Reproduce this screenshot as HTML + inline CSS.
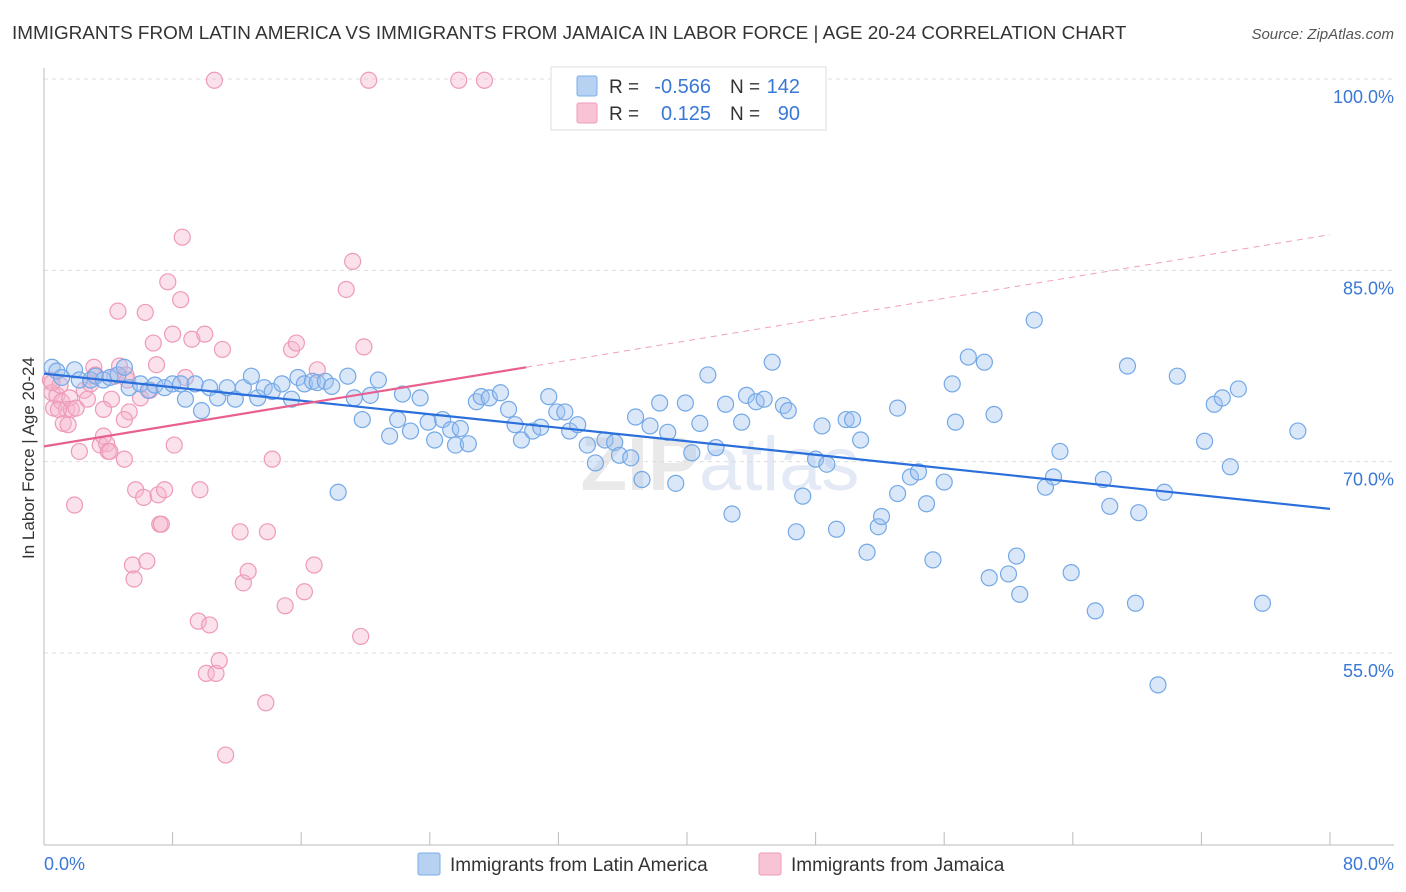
<!DOCTYPE html>
<html><head><meta charset="utf-8"><style>
body{margin:0;background:#fff;font-family:"Liberation Sans",sans-serif;}
#wrap{position:relative;width:1406px;height:892px;overflow:hidden;}
</style></head><body>
<div id="wrap">
<svg id="svg" width="1406" height="892" xmlns="http://www.w3.org/2000/svg">
<text x="12" y="39" font-size="18.9" fill="#333">IMMIGRANTS FROM LATIN AMERICA VS IMMIGRANTS FROM JAMAICA IN LABOR FORCE | AGE 20-24 CORRELATION CHART</text>
<text x="1394" y="39" font-size="15" fill="#555" font-style="italic" text-anchor="end">Source: ZipAtlas.com</text>
<text x="720" y="490" font-size="76" fill="#e9e9e9" text-anchor="middle" font-weight="bold">ZIP<tspan fill="#e3eaf5" font-weight="normal">atlas</tspan></text>
<g id="grid"></g><g id="axes"></g><g id="pts"></g><g id="trend"></g>
<text x="34" y="458" font-size="17" fill="#333" text-anchor="middle" transform="rotate(-90 34 458)">In Labor Force | Age 20-24</text>
<g>
<rect x="551" y="67" width="275" height="63" fill="#fff" stroke="#ddd"/>
<rect x="577" y="76" width="20" height="20" fill="#b7d1f3" stroke="#7aaee8" rx="2"/>
<rect x="577" y="103" width="20" height="20" fill="#f8c3d4" stroke="#ef9dbb" rx="2"/>
<text x="609" y="93" font-size="19" fill="#333">R =</text>
<text x="711" y="93" font-size="20" fill="#3a78d6" text-anchor="end">-0.566</text>
<text x="730" y="93" font-size="19" fill="#333">N =</text>
<text x="800" y="93" font-size="20" fill="#3a78d6" text-anchor="end">142</text>
<text x="609" y="120" font-size="19" fill="#333">R =</text>
<text x="711" y="120" font-size="20" fill="#3a78d6" text-anchor="end">0.125</text>
<text x="730" y="120" font-size="19" fill="#333">N =</text>
<text x="800" y="120" font-size="20" fill="#3a78d6" text-anchor="end">90</text>
</g>
<g>
<rect x="418" y="853" width="22" height="22" fill="#b7d1f3" stroke="#7aaee8" rx="2"/>
<text x="450" y="871" font-size="19" fill="#333">Immigrants from Latin America</text>
<rect x="759" y="853" width="22" height="22" fill="#f8c3d4" stroke="#ef9dbb" rx="2"/>
<text x="791" y="871" font-size="19" fill="#333">Immigrants from Jamaica</text>
</g>
<text x="44" y="870" font-size="18" fill="#3a78d6">0.0%</text>
<text x="1394" y="870" font-size="18" fill="#3a78d6" text-anchor="end">80.0%</text>
</svg>
</div>
<script>
const blueX=[0.5,0.8,1.1,1.9,2.2,2.9,3.2,3.7,4.1,4.6,5.0,5.3,6.0,6.5,6.9,7.5,8.0,8.5,8.8,9.4,9.8,10.3,10.8,11.4,11.9,12.4,12.9,13.3,13.7,14.2,14.8,15.4,15.8,16.2,16.7,17.0,17.5,17.9,18.3,18.9,19.3,19.8,20.3,20.8,21.5,22.0,22.3,22.8,23.4,23.9,24.3,24.8,25.3,25.6,25.9,26.4,26.9,27.2,27.7,28.4,28.9,29.3,29.7,30.4,30.9,31.4,31.9,32.4,32.7,33.2,33.8,34.3,34.9,35.5,35.8,36.5,36.8,37.2,37.7,38.3,38.8,39.3,39.9,40.3,40.8,41.3,41.8,42.4,42.8,43.4,43.7,44.3,44.8,45.3,46.0,46.3,46.8,47.2,48.0,48.4,48.7,49.3,49.9,50.3,50.8,51.2,51.9,52.1,53.1,53.1,53.9,54.4,54.9,55.3,56.0,56.5,56.7,57.5,58.5,58.8,59.1,60.0,60.5,60.7,61.6,62.3,62.8,63.2,63.9,65.4,65.9,66.3,67.4,67.9,68.1,69.3,69.7,70.5,72.2,72.8,73.3,73.8,74.3,75.8,78.0];
const blueY=[77.4,77.1,76.6,77.2,76.4,76.4,76.7,76.4,76.6,76.8,77.4,75.8,76.1,75.6,76.0,75.8,76.1,76.1,74.9,76.1,74.0,75.8,75.0,75.8,74.9,75.8,76.7,75.0,75.8,75.5,76.1,74.9,76.6,76.1,76.3,76.2,76.3,75.9,67.6,76.7,75.0,73.3,75.2,76.4,72.0,73.3,75.3,72.4,75.0,73.1,71.7,73.3,72.5,71.3,72.6,71.4,74.7,75.1,75.0,75.4,74.1,72.9,71.7,72.4,72.7,75.1,73.9,73.9,72.4,72.9,71.3,69.9,71.7,71.5,70.5,70.3,73.5,68.6,72.8,74.6,72.3,68.3,74.6,70.7,73.0,76.8,71.1,74.5,65.9,73.1,75.2,74.7,74.9,77.8,74.4,74.0,64.5,67.3,70.2,72.8,69.8,64.7,73.3,73.3,71.7,62.9,64.9,65.7,74.2,67.5,68.8,69.2,66.7,62.3,68.4,76.1,73.1,78.2,77.8,60.9,73.7,61.2,62.6,59.6,81.1,68.0,68.8,70.8,61.3,58.3,68.6,66.5,77.5,58.9,66.0,52.5,67.6,76.7,71.6,74.5,75.0,69.6,75.7,58.9,72.4];
const pinkX=[0.4,0.5,0.6,0.8,1.0,1.1,1.2,1.4,1.6,1.7,1.9,2.0,2.2,2.5,2.7,2.9,3.1,3.2,3.5,3.7,3.9,4.0,4.1,4.2,4.4,4.6,4.7,5.0,5.1,5.2,5.3,5.5,5.6,5.7,6.0,6.2,6.3,6.4,6.6,6.8,7.0,7.1,7.2,7.3,7.5,7.7,8.0,8.1,8.5,8.6,8.8,9.2,9.6,9.7,10.0,10.1,10.3,10.7,10.6,10.9,11.1,11.3,12.2,12.4,12.7,13.8,13.9,14.2,15.0,15.4,15.7,16.2,16.8,17.0,18.8,19.2,19.7,19.9,20.2,25.8,27.4,0.5,0.9,1.5,3.7,5.0];
const pinkY=[76.4,75.4,74.2,75.2,76.0,74.7,73.0,74.1,75.0,74.1,66.6,74.2,70.8,75.6,74.9,76.1,77.4,76.8,71.3,72.0,71.4,70.8,70.8,74.9,76.7,81.8,77.5,70.2,76.8,76.4,73.9,61.9,60.8,67.8,75.0,67.2,81.7,62.2,75.6,79.3,77.6,67.4,65.1,65.1,67.8,84.1,80.0,71.3,82.7,87.6,76.6,79.6,57.5,67.8,80.0,53.4,57.2,53.4,99.9,54.4,78.8,47.0,64.5,60.5,61.4,51.1,64.5,70.2,58.7,78.8,79.3,59.8,61.9,77.2,83.5,85.7,56.3,79.0,99.9,99.9,99.9,76.2,74.1,72.9,74.1,73.3];
const blueTrendX=[0,80], blueTrendY=[76.9,66.3];
const pinkTrendX=[0,30], pinkTrendY=[71.2,77.4];
const pinkDashX=[30,80], pinkDashY=[77.4,87.8];
const yTicks=[100,85,70,55];
const xTicks=[0,8,16,24,32,40,48,56,64,72,80];
const NS="http://www.w3.org/2000/svg";
const sx=v=>44+v*(1330-44)/80;
const sy=v=>79+(100-v)*(653-79)/45;
function mk(tag,attrs,parent){const e=document.createElementNS(NS,tag);for(const k in attrs)e.setAttribute(k,attrs[k]);parent.appendChild(e);return e;}
const grid=document.getElementById('grid'),axes=document.getElementById('axes'),pts=document.getElementById('pts'),tr=document.getElementById('trend');
yTicks.forEach(v=>{
 const l=mk('line',{x1:44,x2:1394,y1:sy(v),y2:sy(v),stroke:'#ddd','stroke-dasharray':'4 4'},grid);
 
 
 const t=mk('text',{x:1394,y:sy(v)+24,'font-size':18,fill:'#3a78d6','text-anchor':'end'},grid);
 t.textContent=v.toFixed(1)+'%';
 
 
});
const ax=mk('line',{x1:44,x2:44,y1:68,y2:845,stroke:'#bbb'},axes);


const bx=mk('line',{x1:44,x2:1394,y1:845,y2:845,stroke:'#bbb'},axes);


xTicks.forEach(v=>{
 const l=mk('line',{x1:sx(v),x2:sx(v),y1:832,y2:845,stroke:'#bbb'},axes);
 
 
});
function dots(X,Y,fill,stroke,name){
 X.forEach((x,i)=>{
  const c=mk('circle',{cx:sx(x),cy:sy(Y[i]),r:8,fill:fill,stroke:stroke,'stroke-width':1.2},pts);
  
  
 });
}
dots(pinkX,pinkY,'rgba(246,180,204,0.4)','#ee9ab8','jamaica-point');
dots(blueX,blueY,'rgba(160,196,240,0.4)','#74a8e6','latin-america-point');
const bt=mk('line',{x1:sx(blueTrendX[0]),y1:sy(blueTrendY[0]),x2:sx(blueTrendX[1]),y2:sy(blueTrendY[1]),stroke:'#2a6fdb','stroke-width':2.2},tr);


const pt=mk('line',{x1:sx(pinkTrendX[0]),y1:sy(pinkTrendY[0]),x2:sx(pinkTrendX[1]),y2:sy(pinkTrendY[1]),stroke:'#e8608f','stroke-width':2.2},tr);


const pd=mk('line',{x1:sx(pinkDashX[0]),y1:sy(pinkDashY[0]),x2:sx(pinkDashX[1]),y2:sy(pinkDashY[1]),stroke:'#f0a0bc','stroke-width':1,'stroke-dasharray':'6 5'},tr);


</script>
</body></html>
